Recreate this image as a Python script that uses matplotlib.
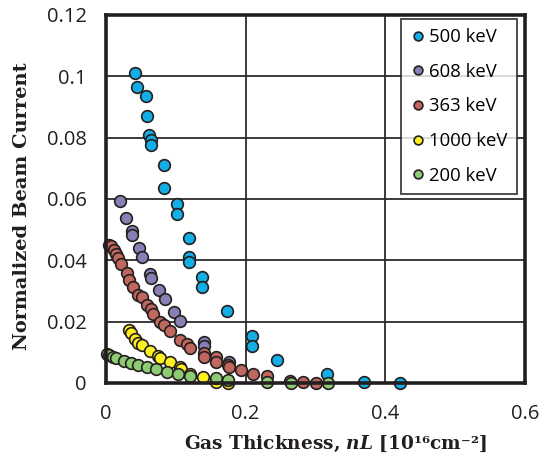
import matplotlib
matplotlib.use("Agg")
import matplotlib.pyplot as plt

# 各系列数据
x_500 = [0.041, 0.045, 0.057, 0.058, 0.061, 0.065, 0.064, 0.083, 0.083, 0.101, 0.101,
         0.119, 0.119, 0.119, 0.138, 0.138, 0.173, 0.209, 0.209, 0.245, 0.317, 0.369, 0.421]
y_500 = [0.1012, 0.0966, 0.0936, 0.0871, 0.0808, 0.0793, 0.0775, 0.0710, 0.0635, 0.0584, 0.0551,
         0.0472, 0.0411, 0.0395, 0.0345, 0.0312, 0.0234, 0.0154, 0.0122, 0.0074, 0.0028, 0.0003, 0.0]

x_608 = [0.020, 0.029, 0.037, 0.037, 0.047, 0.051, 0.063, 0.064, 0.076, 0.085, 0.097,
         0.106, 0.140, 0.140, 0.176]
y_608 = [0.0594, 0.0537, 0.0496, 0.0483, 0.0441, 0.0411, 0.0356, 0.0343, 0.0302, 0.0274, 0.0232,
         0.0203, 0.0135, 0.0120, 0.0069]

x_363 = [0.004, 0.007, 0.011, 0.014, 0.017, 0.021, 0.030, 0.033, 0.039, 0.046, 0.051, 0.058,
         0.065, 0.068, 0.077, 0.083, 0.092, 0.106, 0.116, 0.121, 0.140, 0.140, 0.157, 0.157,
         0.175, 0.176, 0.193, 0.211, 0.230, 0.264, 0.282, 0.300]
y_363 = [0.0450, 0.0447, 0.0434, 0.0421, 0.0407, 0.0388, 0.0358, 0.0336, 0.0314, 0.0287, 0.0281,
         0.0254, 0.0240, 0.0225, 0.0200, 0.0189, 0.0170, 0.0140, 0.0127, 0.0113, 0.0099, 0.0084,
         0.0084, 0.0069, 0.0059, 0.0051, 0.0041, 0.0029, 0.0022, 0.0008, 0.0002, 0.0]

x_1000 = [0.033, 0.036, 0.041, 0.046, 0.051, 0.063, 0.075, 0.077, 0.091, 0.106, 0.108,
          0.121, 0.139, 0.157, 0.175]
y_1000 = [0.0173, 0.0162, 0.0143, 0.0131, 0.0123, 0.0105, 0.0088, 0.0081, 0.0068, 0.0051, 0.0045,
          0.0028, 0.0021, 0.0004, 0.0]

x_200 = [0.002, 0.005, 0.010, 0.014, 0.026, 0.036, 0.046, 0.058, 0.071, 0.087, 0.103,
         0.120, 0.157, 0.175, 0.230, 0.265, 0.318]
y_200 = [0.0093, 0.0091, 0.0086, 0.0081, 0.0073, 0.0066, 0.0059, 0.0051, 0.0045, 0.0037, 0.0029,
         0.0024, 0.0015, 0.0010, 0.0002, 0.0, 0.0]

series = [
    ("500 keV", x_500, y_500, "#13aee6"),
    ("608 keV", x_608, y_608, "#8a7fb5"),
    ("363 keV", x_363, y_363, "#c0675e"),
    ("1000 keV", x_1000, y_1000, "#fff01f"),
    ("200 keV", x_200, y_200, "#8fcb72"),
]

x_ticks = [0, 0.2, 0.4, 0.6]
x_ticklabels = ["0", "0.2", "0.4", "0.6"]
y_ticks = [0, 0.02, 0.04, 0.06, 0.08, 0.1, 0.12]
y_ticklabels = ["0", "0.02", "0.04", "0.06", "0.08", "0.1", "0.12"]

plt.rcParams["mathtext.fontset"] = "custom"
plt.rcParams["mathtext.rm"] = "DejaVu Serif:bold"
plt.rcParams["mathtext.it"] = "DejaVu Serif:bold:italic"
plt.rcParams["mathtext.bf"] = "DejaVu Serif:bold"

fig = plt.figure(figsize=(5.41, 4.66), dpi=100)
ax = fig.add_axes([106 / 541, 1 - 383 / 466, (525 - 106) / 541, (383 - 15) / 466])

for label, xs, ys, c in series:
    ax.plot(xs, ys, "o", ms=8.4, mfc=c, mec="#231f20", mew=1.2, label=label, clip_on=False)

ax.set_xlim(0, 0.6)
ax.set_ylim(0, 0.12)
ax.set_xticks(x_ticks)
ax.set_xticklabels(x_ticklabels, fontfamily="Open Sans", fontsize=14.5, color="#231f20")
ax.set_yticks(y_ticks)
ax.set_yticklabels(y_ticklabels, fontfamily="Open Sans", fontsize=14.5, color="#231f20")
ax.tick_params(length=0)
ax.tick_params(axis="y", pad=14)
ax.tick_params(axis="x", pad=15)
ax.grid(True, color="#2b2b2b", lw=1.3)
ax.set_axisbelow(True)
for s in ax.spines.values():
    s.set_linewidth(2.6)
    s.set_color("#231f20")

ax.set_xlabel(r"Gas Thickness, $\mathit{nL}$ [10¹⁶cm⁻²]", fontfamily="DejaVu Serif",
              fontweight="bold", fontsize=13.3, color="#231f20")
ax.xaxis.set_label_coords(0.548, -0.138)
ax.set_ylabel("Normalized Beam Current", fontfamily="DejaVu Serif",
              fontweight="bold", fontsize=14, color="#231f20")
ax.yaxis.set_label_coords(-0.178, 0.48)

leg = ax.legend(loc="upper right", bbox_to_anchor=(517 / 541, 1 - 19 / 466),
                bbox_transform=fig.transFigure, borderaxespad=0, fancybox=False,
                frameon=True, edgecolor="#231f20", markerscale=0.75,
                prop={"family": "Open Sans", "size": 13.3}, labelspacing=0.9,
                handletextpad=0.15, handlelength=0.9, borderpad=0.5)
leg.get_frame().set_linewidth(1.4)

fig.savefig("out.png", dpi=100)
